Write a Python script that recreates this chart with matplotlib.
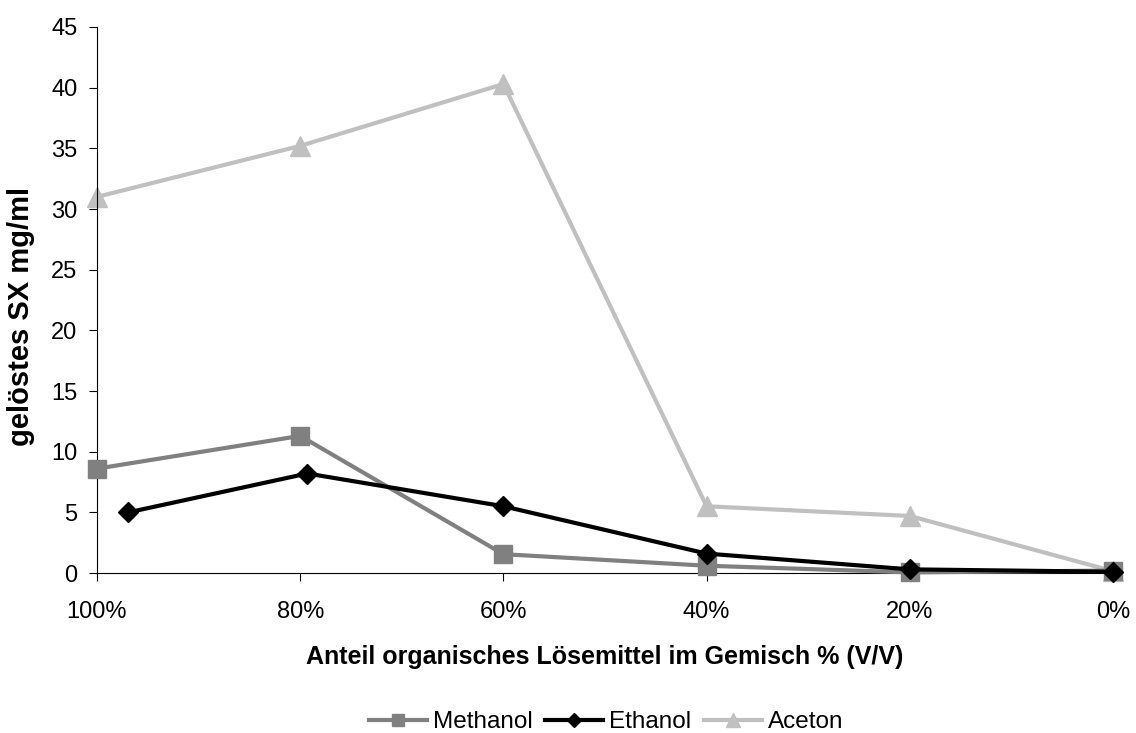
import matplotlib
matplotlib.use("Agg")
import matplotlib.pyplot as plt

plt.rcParams["font.family"] = ["Liberation Sans", "DejaVu Sans"]

# solvent fraction (% V/V) and dissolved SX (mg/ml)
x_methanol = [100, 80, 60, 40, 20, 0]
y_methanol = [8.6, 11.3, 1.55, 0.6, 0.05, 0.2]

x_ethanol = [96.9, 79.3, 60, 40, 20, 0]
y_ethanol = [5.0, 8.2, 5.5, 1.6, 0.3, 0.1]

x_aceton = [100, 80, 60, 40, 20, 0]
y_aceton = [31.0, 35.2, 40.3, 5.5, 4.7, 0.15]

x_ticks = [100, 80, 60, 40, 20, 0]
y_ticks = [0, 5, 10, 15, 20, 25, 30, 35, 40, 45]

W, H = 1136, 733
fig = plt.figure(figsize=(W / 100, H / 100), dpi=100)
ax = fig.add_axes([97 / W, 1 - 573 / H, (1113 - 97) / W, (573 - 27) / H])

ax.plot(x_methanol, y_methanol, color="#808080", lw=3, marker="s", ms=13,
        label="Methanol", clip_on=False, zorder=3)
ax.plot(x_ethanol, y_ethanol, color="black", lw=3, marker="D", ms=9.8,
        label="Ethanol", clip_on=False, zorder=4)
ax.plot(x_aceton, y_aceton, color="#c0c0c0", lw=3, marker="^", ms=15,
        label="Aceton", clip_on=False, zorder=2)

ax.set_xlim(100, 0)
ax.set_ylim(0, 45)
ax.set_xticks(x_ticks)
ax.set_xticklabels([f"{t}%" for t in x_ticks])
ax.set_yticks(y_ticks)

for s in ("top", "right"):
    ax.spines[s].set_visible(False)
for s in ("left", "bottom"):
    ax.spines[s].set_linewidth(0.8)

ax.tick_params(axis="y", direction="out", length=6, width=0.8, pad=8, labelsize=17)
ax.tick_params(axis="x", direction="out", length=6, width=0.8, pad=14, labelsize=17)

fig.text(21 / W, 1 - 316 / H, "gelöstes SX mg/ml", rotation=90,
         fontsize=21, fontweight="bold", ha="center", va="center")
fig.text(605 / W, 1 - 657 / H, "Anteil organisches Lösemittel im Gemisch % (V/V)",
         fontsize=18, fontweight="bold", ha="center", va="center")

fig.legend(loc="center", bbox_to_anchor=(606 / W, 1 - 722 / H), ncol=3,
           frameon=False, fontsize=17.5, handlelength=2.4, handletextpad=0.25,
           columnspacing=0.5, markerscale=0.7)

fig.savefig("out.png", dpi=100)
